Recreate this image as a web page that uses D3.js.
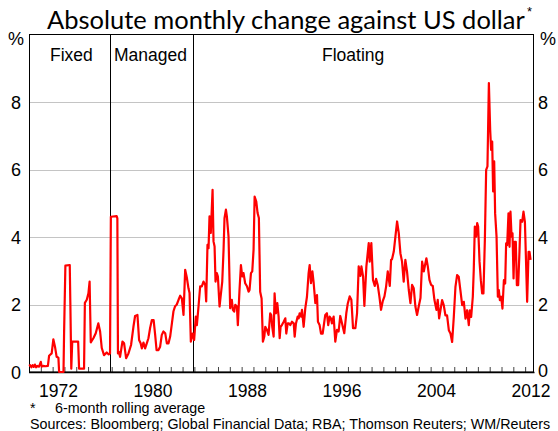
<!DOCTYPE html>
<html><head><meta charset="utf-8">
<script src="https://cdn.jsdelivr.net/npm/d3@7"></script>
<style>body{margin:0;background:#fff} svg{display:block}</style>
</head><body><svg id="c" width="558" height="431"></svg>
<script>
// Decimal-year dates and 6-month rolling average absolute monthly change (%)
const dates = [
1970.00,1970.10,1970.20,1970.30,1970.40,1970.50,1970.60,1970.70,1970.85,1971.00,1971.08,1971.20,1971.40,1971.60,1971.70,1971.92,
1972.06,1972.20,1972.34,1972.49,1972.55,1972.92,1972.97,1973.08,1973.45,1973.50,1973.58,1973.66,1974.16,1974.24,1974.66,1974.73,
1974.89,1975.03,1975.13,1975.23,1975.45,1975.65,1975.87,1976.02,1976.16,1976.35,1976.58,1976.75,1976.86,
1976.93,1977.42,1977.48,1977.53,1977.60,1977.71,1977.91,1978.05,1978.22,1978.42,1978.64,1978.84,1978.98,1979.18,1979.32,1979.45,
1979.55,1979.69,1979.83,1979.97,1980.11,1980.25,1980.40,1980.55,1980.68,1980.80,1980.96,1981.10,1981.24,1981.38,1981.53,1981.67,
1981.81,1981.95,1982.10,1982.23,1982.37,1982.51,1982.66,1982.80,1982.94,1983.08,1983.22,1983.36,1983.50,1983.59,1983.70,1983.84,
1983.98,1984.12,1984.21,1984.35,1984.49,1984.63,1984.77,1984.92,1985.00,1985.11,1985.20,1985.28,1985.39,1985.54,1985.62,1985.71,
1985.79,1985.90,1985.99,1986.13,1986.22,1986.36,1986.47,1986.55,1986.67,1986.75,1986.89,1987.03,1987.17,1987.26,1987.37,1987.46,
1987.60,1987.68,1987.82,1987.94,1988.05,1988.16,1988.30,1988.45,1988.59,1988.67,1988.79,1988.90,1989.01,1989.10,1989.24,1989.35,
1989.46,1989.57,1989.69,1989.80,1989.92,1990.00,1990.14,1990.28,1990.42,1990.51,1990.59,1990.71,1990.79,1990.90,1991.02,1991.13,
1991.22,1991.30,1991.41,1991.56,1991.70,1991.78,1991.90,1992.01,1992.12,1992.26,1992.41,1992.49,1992.60,1992.74,1992.83,1992.91,
1993.03,1993.11,1993.25,1993.39,1993.53,1993.67,1993.76,1993.87,1993.99,1994.10,1994.24,1994.38,1994.46,1994.60,1994.72,1994.86,
1994.94,1995.08,1995.22,1995.33,1995.45,1995.56,1995.64,1995.79,1995.93,1996.07,1996.21,1996.35,
1996.50,1996.69,1996.86,1996.98,1997.15,1997.29,1997.43,1997.63,1997.77,1997.91,1998.05,1998.14,1998.28,1998.39,1998.56,1998.76,
1998.84,1998.98,1999.12,1999.27,1999.38,1999.52,1999.66,1999.80,1999.94,2000.09,2000.23,2000.37,2000.54,2000.65,2000.73,2000.88,
2001.02,2001.16,2001.30,2001.44,2001.58,2001.72,2001.86,2002.00,2002.15,2002.29,2002.43,2002.57,2002.71,2002.85,2002.99,2003.14,
2003.28,2003.42,2003.64,2003.76,2003.90,2004.04,2004.18,2004.32,2004.49,2004.60,2004.72,2004.83,
2004.97,2005.11,2005.25,2005.39,2005.54,2005.68,2005.82,2005.96,2006.10,2006.24,2006.38,2006.52,2006.67,2006.81,2006.95,2007.09,
2007.23,2007.32,2007.43,2007.57,2007.65,2007.74,2007.85,2007.94,2008.02,2008.14,2008.25,2008.36,2008.47,2008.59,2008.70,2008.81,
2008.93,2009.04,2009.12,2009.21,2009.29,2009.38,2009.46,2009.58,2009.69,2009.77,2009.86,2009.97,2010.08,2010.20,2010.31,2010.39,
2010.48,2010.59,2010.68,2010.76,2010.85,2010.93,2011.02,2011.10,2011.21,2011.30,2011.41,2011.52,2011.61,2011.75,2011.86,2011.98,
2012.06,2012.17,2012.29,2012.37,2012.46
];
const values = [
0.18,0.20,0.14,0.20,0.15,0.22,0.14,0.18,0.16,0.30,0.16,0.18,0.17,0.18,0.48,0.55,
0.97,0.75,0.45,0.42,0.00,0.00,1.15,3.15,3.17,2.05,0.10,0.90,0.90,0.10,0.10,2.05,
2.14,2.33,2.68,0.88,1.00,1.15,1.44,1.20,0.71,0.50,0.58,0.52,0.55,
4.60,4.62,4.55,0.55,0.60,0.45,0.90,0.85,0.41,0.55,0.80,1.34,1.66,1.69,0.95,0.85,
0.70,0.87,0.70,0.85,1.00,1.30,1.54,1.54,1.10,0.65,0.65,0.75,1.10,1.20,1.15,0.85,
0.85,1.05,1.45,1.80,1.95,2.00,2.14,2.26,2.18,1.69,3.03,2.80,2.48,2.34,0.90,1.14,
0.95,1.64,1.39,1.94,2.54,2.54,2.68,2.58,2.09,3.77,3.67,4.61,4.12,5.40,3.87,3.72,
2.68,2.93,2.83,1.94,2.23,2.68,3.62,4.56,4.81,4.61,4.02,1.89,2.14,1.84,1.79,1.99,
1.94,1.39,2.43,3.17,2.83,2.93,2.63,2.54,2.38,2.43,2.93,2.98,3.62,5.20,5.05,4.71,
4.56,2.38,2.18,0.90,1.05,1.34,1.25,1.10,1.74,1.69,1.34,1.05,2.33,1.74,2.04,1.64,
1.00,1.34,1.39,1.49,1.59,1.14,1.44,1.44,1.39,1.49,1.44,1.05,1.44,1.64,1.59,1.74,
1.64,1.84,1.34,1.89,2.23,2.93,3.17,2.63,2.98,2.63,2.04,2.28,1.49,1.39,1.14,1.14,
1.34,1.69,1.74,1.39,1.64,1.59,1.44,1.64,0.90,1.25,1.20,1.66,
1.44,1.15,1.74,2.02,2.24,2.14,1.30,1.30,1.74,3.13,2.85,3.13,2.83,1.96,3.13,3.82,
3.27,3.82,2.73,2.55,2.76,2.58,2.24,1.84,2.09,2.24,2.53,2.98,2.55,3.32,3.34,3.57,
4.02,4.46,4.12,3.52,3.27,2.68,3.32,2.98,2.43,2.04,2.58,2.48,1.94,1.69,1.94,2.19,
3.27,2.98,3.37,3.13,2.73,2.58,2.55,2.14,1.84,2.14,1.59,1.83,
2.13,1.98,1.68,1.68,1.24,1.14,0.89,1.63,2.52,2.87,2.82,2.42,1.98,2.08,1.58,1.83,
1.39,1.83,1.63,2.23,3.02,4.31,4.01,4.41,4.31,3.27,2.72,2.33,2.33,3.91,5.99,6.09,
8.56,7.18,6.58,6.83,5.35,6.24,4.70,4.01,2.23,2.43,2.13,2.23,1.88,2.72,2.62,3.81,
3.76,4.70,3.71,4.75,4.01,4.11,2.77,3.86,3.86,2.57,2.57,3.56,4.50,4.45,4.75,4.45,
3.47,2.08,3.56,3.56,3.32
];
const yTicks = [0, 2, 4, 6, 8];
const gridValues = [2, 4, 6, 8];
const yearTicks = d3.range(1971, 2013);
const yearLabels = [1972, 1980, 1988, 1996, 2004, 2012];
const regimeBreaks = [1976.83, 1983.87];
const regimeNames = ["Fixed", "Managed", "Floating"];
const titleText = "Absolute monthly change against US dollar";
const footnotes = ["6-month rolling average", "Sources: Bloomberg; Global Financial Data; RBA; Thomson Reuters; WM/Reuters"];

const svg = d3.select("#c");
const L = 29, R = 534, T = 34.5, B = 372;
const x = d3.scaleLinear().domain([1970, 2012.75]).range([L, R]);
const y = d3.scaleLinear().domain([0, 10]).range([B, T]);
const sans = "'Liberation Sans', Arial, sans-serif";

// gridlines
svg.append("g").selectAll("line").data(gridValues).join("line")
  .attr("x1", L).attr("x2", R)
  .attr("y1", d => Math.round(y(d)) + 0.5).attr("y2", d => Math.round(y(d)) + 0.5)
  .attr("stroke", "#c4c4c4").attr("stroke-width", 1.2);

// regime separators
svg.append("g").selectAll("line").data(regimeBreaks).join("line")
  .attr("x1", d => Math.round(x(d)) + 0.5).attr("x2", d => Math.round(x(d)) + 0.5)
  .attr("y1", T).attr("y2", B).attr("stroke", "#000").attr("stroke-width", 1);

// bottom axis with inward ticks
const xAxis = d3.axisBottom(x).tickValues(yearTicks).tickSize(-5).tickFormat("");
const gx = svg.append("g").attr("transform", `translate(0,${B})`).call(xAxis);
gx.select(".domain").remove();
gx.selectAll(".tick line").attr("stroke", "#444").attr("stroke-width", 1);

// frame
svg.append("rect").attr("x", L + 0.5).attr("y", T).attr("width", R - L - 1).attr("height", B - T)
  .attr("fill", "none").attr("stroke", "#000").attr("stroke-width", 1);
svg.append("line").attr("x1", L).attr("x2", R + 0.5).attr("y1", B + 0.5).attr("y2", B + 0.5)
  .attr("stroke", "#000").attr("stroke-width", 1.5);

// data line
const pts = dates.map((d, i) => [d, values[i]]);
svg.append("path").datum(pts)
  .attr("d", d3.line().x(d => x(d[0])).y(d => y(d[1])))
  .attr("fill", "none").attr("stroke", "#ff0000").attr("stroke-width", 2.2)
  .attr("stroke-linejoin", "round");

// year labels (centred in the year)
svg.append("g").selectAll("text").data(yearLabels).join("text")
  .attr("x", d => x(d + 0.5)).attr("y", 396.5)
  .attr("text-anchor", "middle").attr("font-family", sans).attr("font-size", 17.5)
  .text(d => d);

// y labels both sides
const yl = svg.append("g").attr("font-family", sans).attr("font-size", 18);
yl.selectAll("text.l").data(yTicks).join("text").attr("class", "l")
  .attr("x", 21).attr("y", d => y(d) + 6.5).attr("text-anchor", "end").text(d => d);
yl.selectAll("text.r").data(yTicks).join("text").attr("class", "r")
  .attr("x", 538).attr("y", d => y(d) + (d === 0 ? 4.5 : 6.5)).attr("text-anchor", "start").text(d => d);
yl.append("text").attr("x", 8).attr("y", 45).text("%");
yl.append("text").attr("x", 540).attr("y", 45).text("%");

// regime labels
const regimeX = [50, 114, 322];
svg.append("g").selectAll("text").data(regimeNames).join("text")
  .attr("x", (d, i) => regimeX[i]).attr("y", 61)
  .attr("font-family", sans).attr("font-size", 17.5).text(d => d);

// title
const title = svg.append("text").attr("x", 47).attr("y", 28.5)
  .attr("font-family", "Lato, 'Open Sans', sans-serif").attr("font-size", 25).text(titleText);
const tw = title.node().getComputedTextLength();
title.attr("font-size", 25 * 478 / tw);
svg.append("text").attr("x", 527).attr("y", 16).attr("font-family", sans).attr("font-size", 13).text("*");

// footnotes
const fn = svg.append("g").attr("font-family", sans).attr("font-size", 14.3);
fn.append("text").attr("x", 30).attr("y", 413).text("*");
fn.append("text").attr("x", 55).attr("y", 413).text(footnotes[0]);
fn.append("text").attr("x", 30).attr("y", 428.5).text(footnotes[1]);
</script>
</body></html>
